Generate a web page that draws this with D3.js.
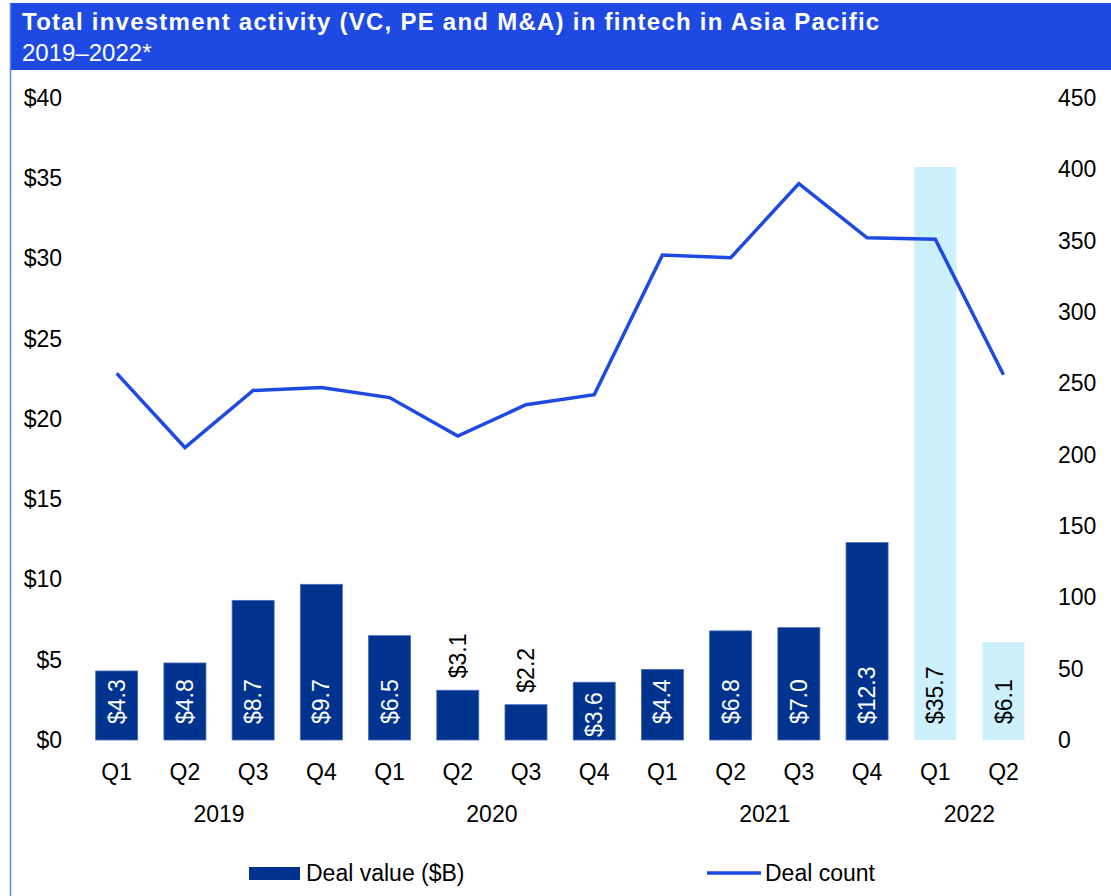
<!DOCTYPE html>
<html>
<head>
<meta charset="utf-8">
<script src="https://cdn.jsdelivr.net/npm/d3@7/dist/d3.min.js"></script>
<style>
  html, body { margin: 0; padding: 0; background: #fff; }
  svg { display: block; font-family: "Liberation Sans", Arial, sans-serif; }
</style>
</head>
<body>
<svg id="chart" width="1111" height="896"></svg>
<script>
// Quarterly fintech investment in Asia Pacific
const quarters = ["Q1","Q2","Q3","Q4","Q1","Q2","Q3","Q4","Q1","Q2","Q3","Q4","Q1","Q2"];
const years = ["2019","2019","2019","2019","2020","2020","2020","2020","2021","2021","2021","2021","2022","2022"];
const yearLabels = ["2019","2020","2021","2022"];
const dealValue = [4.3, 4.8, 8.7, 9.7, 6.5, 3.1, 2.2, 3.6, 4.4, 6.8, 7.0, 12.3, 35.7, 6.1];
const dealCount = [257, 205, 245, 247, 240, 213, 235, 242, 340, 338, 390, 352, 351, 256];
const partialYear = ["2022"]; // highlighted in light blue
const labelOutside = [false, false, false, false, false, true, true, false, false, false, false, false, false, false];
const leftTicks = [0, 5, 10, 15, 20, 25, 30, 35, 40];
const rightTicks = [0, 50, 100, 150, 200, 250, 300, 350, 400, 450];

const title = "Total investment activity (VC, PE and M&A) in fintech in Asia Pacific";
const subtitle = "2019\u20132022*";

const C = {
  header: "#1e49e2",
  border: "#5a7ef0",
  bar: "#00338d",
  barEdge: "#4a6cb8",
  barLight: "#ccf1fd",
  line: "#1e49e2",
  text: "#000"
};
const FS = 23;

const svg = d3.select("#chart");
const ids = d3.range(quarters.length);

const x = d3.scaleBand().domain(ids).range([82.6, 1037.6]).paddingInner(0.384).paddingOuter(0.192);
const yL = d3.scaleLinear().domain([0, 40]).range([740, 98]);
const yR = d3.scaleLinear().domain([0, 450]).range([740, 98]);

// Header band and left frame line
svg.append("rect").attr("x", 10).attr("y", 3).attr("width", 1101).attr("height", 67).attr("fill", C.header);
svg.append("line").attr("x1", 10.5).attr("x2", 10.5).attr("y1", 3).attr("y2", 896)
  .attr("stroke", C.border).attr("stroke-width", 1.5);
svg.append("text").attr("x", 22).attr("y", 30).attr("fill", "#fff")
  .attr("font-size", 24).attr("font-weight", "bold").attr("letter-spacing", 1.25).text(title);
svg.append("text").attr("x", 22).attr("y", 61).attr("fill", "#fff")
  .attr("font-size", 24).text(subtitle);

// Left axis (deal value)
const axL = svg.append("g").attr("transform", "translate(62,0)")
  .call(d3.axisLeft(yL).tickValues(leftTicks).tickSize(0).tickPadding(0).tickFormat(d => "$" + d));
axL.select(".domain").remove();
axL.selectAll("text").attr("font-size", FS).attr("fill", C.text).attr("font-family", null);

// Right axis (deal count)
const axR = svg.append("g").attr("transform", "translate(1058,0)")
  .call(d3.axisRight(yR).tickValues(rightTicks).tickSize(0).tickPadding(0).tickFormat(d3.format("d")));
axR.select(".domain").remove();
axR.selectAll("text").attr("font-size", FS).attr("fill", C.text).attr("font-family", null);

// Bars
const isLight = i => partialYear.includes(years[i]);
svg.append("g").selectAll("rect").data(ids).join("rect")
  .attr("x", i => x(i))
  .attr("y", i => yL(dealValue[i]))
  .attr("width", x.bandwidth())
  .attr("height", i => yL(0) - yL(dealValue[i]))
  .attr("fill", i => isLight(i) ? C.barLight : C.bar)
  .attr("stroke", i => isLight(i) ? "none" : C.barEdge)
  .attr("stroke-width", 0.8);

// Rotated value labels: inside the base of the bar, or above short bars
const labels = svg.append("g").selectAll("text").data(ids).join("text")
  .attr("dy", "0.35em")
  .attr("font-size", FS)
  .attr("fill", i => (labelOutside[i] || isLight(i)) ? C.text : "#fff")
  .text(i => "$" + d3.format(".1f")(dealValue[i]));
labels.attr("transform", function(i) {
  const cx = x(i) + x.bandwidth() / 2;
  const len = this.getComputedTextLength();
  const barH = yL(0) - yL(dealValue[i]);
  let y0;
  if (labelOutside[i]) y0 = yL(dealValue[i]) - 12;
  else y0 = yL(0) - (barH - len < 20 ? 3 : 16);
  return `translate(${cx},${y0}) rotate(-90)`;
});

// Deal count line
const line = d3.line().x(i => x(i) + x.bandwidth() / 2).y(i => yR(dealCount[i]));
svg.append("path").datum(ids).attr("d", line)
  .attr("fill", "none").attr("stroke", C.line).attr("stroke-width", 3.5)
  .attr("stroke-linejoin", "miter");

// Quarter labels
svg.append("g").selectAll("text").data(ids).join("text")
  .attr("x", i => x(i) + x.bandwidth() / 2).attr("y", 772).attr("dy", "0.35em")
  .attr("text-anchor", "middle").attr("font-size", FS).attr("fill", C.text)
  .text(i => quarters[i]);

// Year labels centred under their quarters
svg.append("g").selectAll("text").data(yearLabels).join("text")
  .attr("x", yr => {
    const idx = ids.filter(i => years[i] === yr);
    return (x(idx[0]) + x(idx[idx.length - 1]) + x.bandwidth()) / 2;
  })
  .attr("y", 814).attr("dy", "0.35em")
  .attr("text-anchor", "middle").attr("font-size", FS).attr("fill", C.text)
  .text(d => d);

// Legend
const lg = svg.append("g");
lg.append("rect").attr("x", 249).attr("y", 867).attr("width", 51).attr("height", 13).attr("fill", C.bar);
lg.append("text").attr("x", 306).attr("y", 873).attr("dy", "0.35em").attr("font-size", FS).text("Deal value ($B)");
lg.append("line").attr("x1", 707).attr("x2", 761).attr("y1", 873).attr("y2", 873)
  .attr("stroke", C.line).attr("stroke-width", 3.5);
lg.append("text").attr("x", 765).attr("y", 873).attr("dy", "0.35em").attr("font-size", FS).text("Deal count");
</script>
</body>
</html>
